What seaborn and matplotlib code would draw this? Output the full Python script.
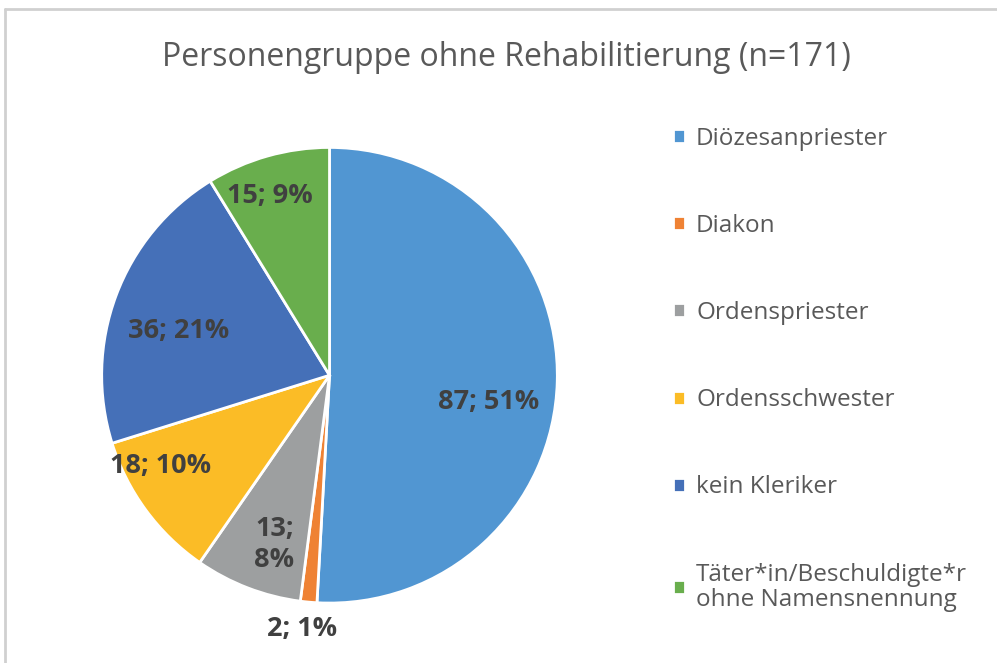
import numpy as np
import seaborn as sns
import matplotlib.pyplot as plt
from matplotlib.lines import Line2D

categories = ["Diözesanpriester", "Diakon", "Ordenspriester", "Ordensschwester",
              "kein Kleriker", "Täter*in/Beschuldigte*r\nohne Namensnennung"]
counts = [87, 2, 13, 18, 36, 15]
pct_labels = ["87; 51%", "2; 1%", "13;\n8%", "18; 10%", "36; 21%", "15; 9%"]

colors = sns.color_palette(["#5196d2", "#ef8234", "#9d9fa0", "#fbbc26", "#4570b8", "#69ae4d"])

sns.set_style("white")
plt.rcParams['font.family'] = ['Open Sans', 'DejaVu Sans']

fig = plt.figure(figsize=(9.97, 6.63), dpi=100)
ax = fig.add_axes([0.102, 0.090, 0.457, 0.688])

wedges, _ = ax.pie(counts, colors=colors, startangle=90, counterclock=False,
                   wedgeprops=dict(edgecolor="white", linewidth=2))
ax.set_xlim(-1, 1)
ax.set_ylim(-1, 1)
ax.set_aspect("equal")

# label radius and angle nudge (deg) for each slice
dist = [0.71, 1.12, 0.78, 0.84, 0.69, 0.83]
nudge = [-8, -1, 3, -8, 4, 2.5]
for w, txt, d, n in zip(wedges, pct_labels, dist, nudge):
    ang = np.deg2rad((w.theta1 + w.theta2) / 2 + n)
    ax.text(d * np.cos(ang), d * np.sin(ang), txt, ha="center", va="center",
            fontsize=19.5, fontweight="bold", color="#404040", linespacing=1.25)

fig.text(0.508, 0.913, "Personengruppe ohne Rehabilitierung (n=171)",
         ha="center", va="center", fontsize=23, color="#595959")

leg = fig.legend(wedges, categories, loc="upper left", bbox_to_anchor=(0.653, 0.842),
                 frameon=False, fontsize=17.5, labelcolor="#595959",
                 handlelength=0.5, handleheight=0.5, handletextpad=0.45,
                 labelspacing=2.6)
for t in leg.get_texts():
    t.set_linespacing(1.05)

# chart area border (top and left only visible)
fig.add_artist(Line2D([0.005, 1.0], [0.986, 0.986], transform=fig.transFigure,
                      color="#d0d0d0", lw=2))
fig.add_artist(Line2D([0.005, 0.005], [0.0, 0.986], transform=fig.transFigure,
                      color="#d0d0d0", lw=2))

plt.savefig("out.png", dpi=100)
